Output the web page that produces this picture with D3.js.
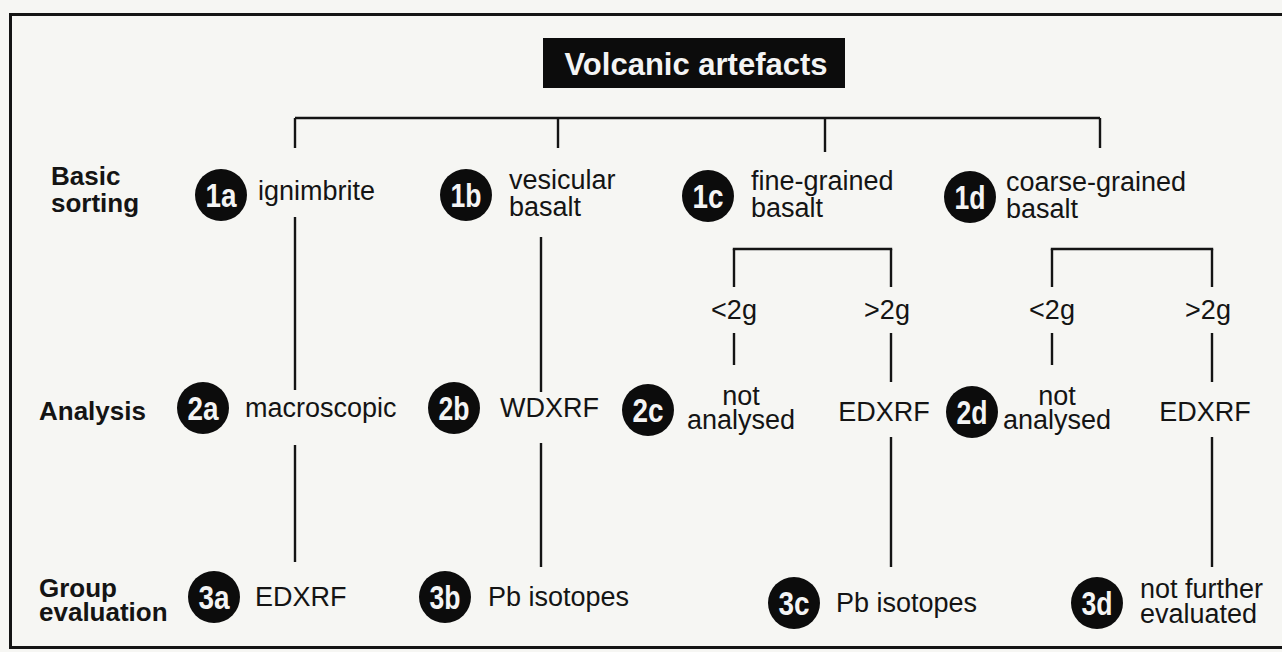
<!DOCTYPE html>
<html>
<head>
<meta charset="utf-8">
<script src="https://cdn.jsdelivr.net/npm/d3@7"></script>
<style>
  html, body { margin: 0; padding: 0; background: #f6f6f3; }
  svg { display: block; }
  text { font-family: "Liberation Sans", Arial, Helvetica, sans-serif; fill: #141414; }
</style>
</head>
<body>
<svg id="chart" width="1282" height="652"></svg>
<script>
// DATA ========================================================================

var title = 'Volcanic artefacts';
var levels = ['1', '2', '3'];
var levelLabels = [['Basic', 'sorting'], ['Analysis'], ['Group', 'evaluation']];
var nodeIds = ['1a', '1b', '1c', '1d', '2a', '2b', '2c', '2d', '3a', '3b', '3c', '3d'];
var nodeTexts = [
    ['ignimbrite'], ['vesicular', 'basalt'], ['fine-grained', 'basalt'], ['coarse-grained', 'basalt'],
    ['macroscopic'], ['WDXRF'], ['not', 'analysed'], ['not', 'analysed'],
    ['EDXRF'], ['Pb isotopes'], ['Pb isotopes'], ['not further', 'evaluated']];
var splitNodes = ['1c', '1d'];          // sorted again by weight
var weightClasses = ['<2g', '>2g'];
var heavyAnalysis = 'EDXRF';
var straightNodes = ['1a', '1b'];       // go straight down through 2x and 3x

// LAYOUT ======================================================================

var svg = d3.select('#chart'),
    ink = '#141414';

var yRow = d3.scaleOrdinal().domain(levels).range([195, 410, 599]);
var lineGap = d3.scaleOrdinal().domain(levels).range([27, 24, 25]);
var yLevelLabel = d3.scaleOrdinal().domain(levels).range([185, 420, 597]);
var levelLabelGap = d3.scaleOrdinal().domain(levels).range([27, 0, 24]);
var xCircle = d3.scaleOrdinal().domain(nodeIds)
    .range([221, 466, 708, 970, 203, 454, 648, 972, 214, 445, 794, 1097]);
var yNudge = d3.scaleOrdinal().domain(nodeIds)
    .range([0, 0, 1, 2, -2, -2, 0, 2, -2, -2, 4, 4]);
var xText = d3.scaleOrdinal().domain(nodeIds)
    .range([258, 509, 751, 1006, 245, 500, 741, 1057, 255, 488, 836, 1140]);
var yTextNudge = d3.scaleOrdinal().domain(nodeIds)
    .range([-4, 0, 0, 0, 0, 0, 0, -2, 0, 0, 0, 0]);
var centred = ['2c', '2d'];
var xTop = d3.scaleOrdinal().domain(['1a', '1b', '1c', '1d']).range([295, 558, 825, 1100]);
var xTrunk = d3.scaleOrdinal().domain(straightNodes).range([295, 541]);
var xWeight = d3.scaleOrdinal().domain(['1c<2g', '1c>2g', '1d<2g', '1d>2g'])
    .range([734, 891, 1052, 1212]);

function line(x1, y1, x2, y2, w) {
    svg.append('line')
        .attr('x1', x1).attr('y1', y1).attr('x2', x2).attr('y2', y2)
        .attr('stroke', ink).attr('stroke-width', w || 2.4);
}

// frame
svg.append('rect')
    .attr('x', 10.5).attr('y', 14.5).attr('width', 1300).attr('height', 633)
    .attr('fill', 'none').attr('stroke', ink).attr('stroke-width', 3);

// title
svg.append('rect').attr('x', 543).attr('y', 38).attr('width', 302).attr('height', 50)
    .attr('fill', '#0c0c0c');
svg.append('text').attr('x', 696).attr('y', 75).attr('text-anchor', 'middle')
    .style('font-weight', 'bold').style('font-size', '31px').style('fill', '#f4f4f4')
    .text(title);

// top bracket
line(xTop('1a'), 118, xTop('1d'), 118);
xTop.domain().forEach(function (id) {
    line(xTop(id), 118, xTop(id), id === '1c' ? 152 : 148);
});

// straight trunks (1a -> 2a -> 3a, 1b -> 2b -> 3b)
var trunkSpans = {'1a': [[217, 390], [445, 562]], '1b': [[237, 392], [443, 567]]};
straightNodes.forEach(function (id) {
    trunkSpans[id].forEach(function (s) { line(xTrunk(id), s[0], xTrunk(id), s[1]); });
});

// weight brackets under 1c and 1d
splitNodes.forEach(function (id) {
    var xl = xWeight(id + weightClasses[0]), xr = xWeight(id + weightClasses[1]);
    line(xl - 1.2, 249, xr + 1.2, 249);
    line(xl, 249, xl, 287);
    line(xr, 249, xr, 287);
    weightClasses.forEach(function (w, i) {
        var x = xWeight(id + w);
        svg.append('text').attr('x', x - (i ? 4 : 0)).attr('y', 319)
            .attr('text-anchor', 'middle').style('font-size', '27px').text(w);
        line(x, 333, x, i ? 382 : 365);
    });
    var xh = xWeight(id + weightClasses[1]);
    svg.append('text').attr('x', xh - 7).attr('y', 421).attr('text-anchor', 'middle')
        .style('font-size', '27px').text(heavyAnalysis);
    line(xh, 437, xh, 567);
});

// level labels, one text per line
levelLabels.forEach(function (lines, i) {
    var lv = levels[i],
        x0 = i === 0 ? 51 : 39;
    lines.forEach(function (l, j) {
        svg.append('text').attr('x', x0).attr('y', yLevelLabel(lv) + j * levelLabelGap(lv))
            .style('font-weight', 'bold').style('font-size', '26px').text(l);
    });
});

// nodes
nodeIds.forEach(function (id, i) {
    var cx = xCircle(id), cy = yRow(id[0]) + yNudge(id);
    svg.append('circle').attr('cx', cx).attr('cy', cy).attr('r', 26).attr('fill', '#0c0c0c');
    svg.append('text').attr('x', cx).attr('y', cy + 11.5).attr('text-anchor', 'middle')
        .attr('textLength', 31).attr('lengthAdjust', 'spacingAndGlyphs')
        .style('font-weight', 'bold').style('font-size', '33px').style('fill', '#f4f4f4')
        .text(id);

    var lines = nodeTexts[i],
        gap = lineGap(id[0]),
        mid = centred.indexOf(id) >= 0,
        y0 = cy + yTextNudge(id) + (lines.length > 1 ? 9 - gap / 2 - 2 : 9);
    lines.forEach(function (l, j) {
        svg.append('text').attr('x', xText(id)).attr('y', y0 + j * gap)
            .attr('text-anchor', mid ? 'middle' : 'start')
            .style('font-size', '27px').text(l);
    });
});
</script>
</body>
</html>
